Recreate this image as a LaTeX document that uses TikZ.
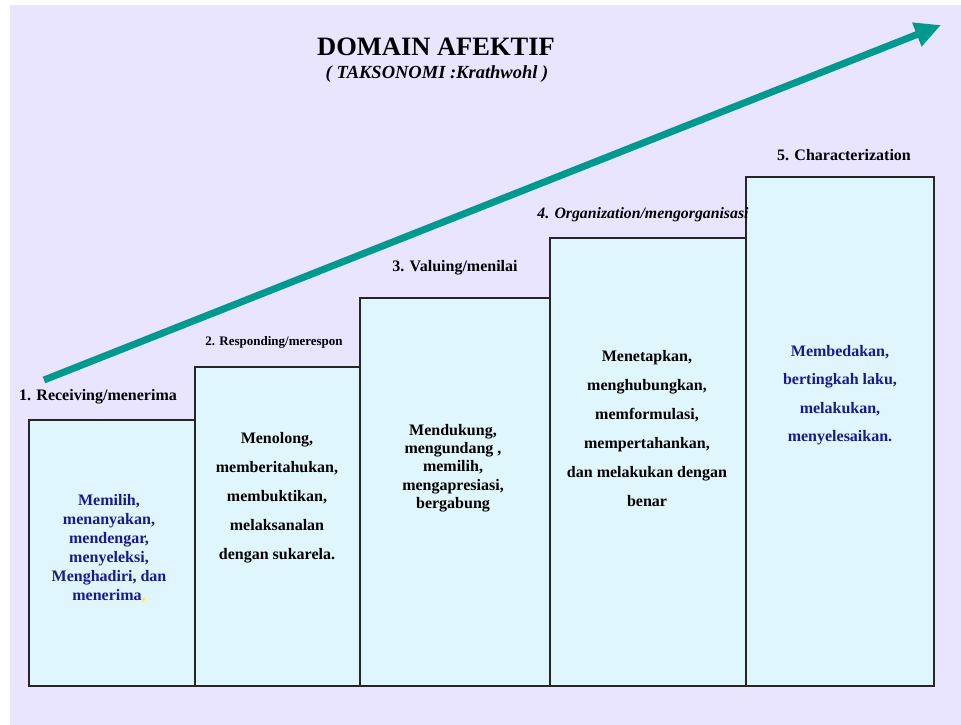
\documentclass[tikz,border=0pt]{standalone}
\usepackage{fontspec}
\setmainfont{Liberation Serif}
\usepackage{tikz}
\usetikzlibrary{arrows.meta,positioning}

\definecolor{lavender}{RGB}{233,228,255}
\definecolor{boxcyan}{RGB}{224,246,253}
\definecolor{teal}{RGB}{0,153,143}
\definecolor{navy}{RGB}{25,25,145}

\begin{document}
\begin{tikzpicture}[x=1pt,y=-1pt,
    stepbox/.style={draw=black!85,fill=boxcyan,line width=1.1pt,
                    inner sep=0pt,outer sep=0pt,anchor=south west},
    levellabel/.style={font=\bfseries\fontsize{16}{18}\selectfont},
    boxtext/.style={align=center,font=\bfseries\fontsize{16}{29}\selectfont},
    bluetext/.style={boxtext,text=navy}]

  \useasboundingbox (0,0) rectangle (961,725);
  \fill[lavender] (10,5) rectangle (961,725);

  % title
  \node[font=\bfseries\fontsize{26.5}{30}\selectfont] (title) at (436,47) {DOMAIN AFEKTIF};
  \node[font=\bfseries\itshape\fontsize{18.5}{22}\selectfont] (subtitle) at (437,74)
       {( TAKSONOMI :Krathwohl )};

  % steps
  \node[stepbox,minimum width=166pt,minimum height=266pt] (box1) at (29,686) {};
  \node[stepbox,minimum width=165pt,minimum height=319pt] (box2) at (195,686) {};
  \node[stepbox,minimum width=190pt,minimum height=388pt] (box3) at (360,686) {};
  \node[stepbox,minimum width=196pt,minimum height=448pt] (box4) at (550,686) {};
  \node[stepbox,minimum width=188pt,minimum height=509pt] (box5) at (746,686) {};

  % level names
  \node[levellabel]                (lab1) at (98,397)  {1. Receiving/menerima};
  \node[levellabel,font=\bfseries\fontsize{13}{15}\selectfont]
                                   (lab2) at (274,342) {2. Responding/merespon};
  \node[levellabel]                (lab3) at (455,268) {3. Valuing/menilai};
  \node[levellabel,font=\bfseries\itshape\fontsize{15.8}{18}\selectfont]
                                   (lab4) at (643,215) {4. Organization/mengorganisasi};
  \node[levellabel]                (lab5) at (844,155) {5. Characterization};

  % contents
  \node[bluetext,font=\bfseries\fontsize{16}{19}\selectfont] (txt1) at (109,549)
       {Memilih,\\menanyakan,\\mendengar,\\menyeleksi,\\Menghadiri, dan\\menerima\textcolor{yellow}{,}};
  \node[boxtext] (txt2) at (277,498)
       {Menolong,\\memberitahukan,\\membuktikan,\\melaksanalan\\dengan sukarela.};
  \node[boxtext,font=\bfseries\fontsize{16}{18.3}\selectfont] (txt3) at (453,468)
       {Mendukung,\\mengundang ,\\memilih,\\mengapresiasi,\\bergabung};
  \node[boxtext] (txt4) at (647,429)
       {Menetapkan,\\menghubungkan,\\memformulasi,\\mempertahankan,\\dan melakukan dengan\\benar};
  \node[bluetext,font=\bfseries\fontsize{16}{28.5}\selectfont] (txt5) at (840,395)
       {Membedakan,\\bertingkah laku,\\melakukan,\\menyelesaikan.};

  % growth arrow
  \coordinate (arrowstart) at (44,380);
  \coordinate (arrowend) at (941,25);
  \draw[teal,line width=7pt,-{Triangle[length=26pt,width=24pt]}] (arrowstart) -- (arrowend);
\end{tikzpicture}
\end{document}
